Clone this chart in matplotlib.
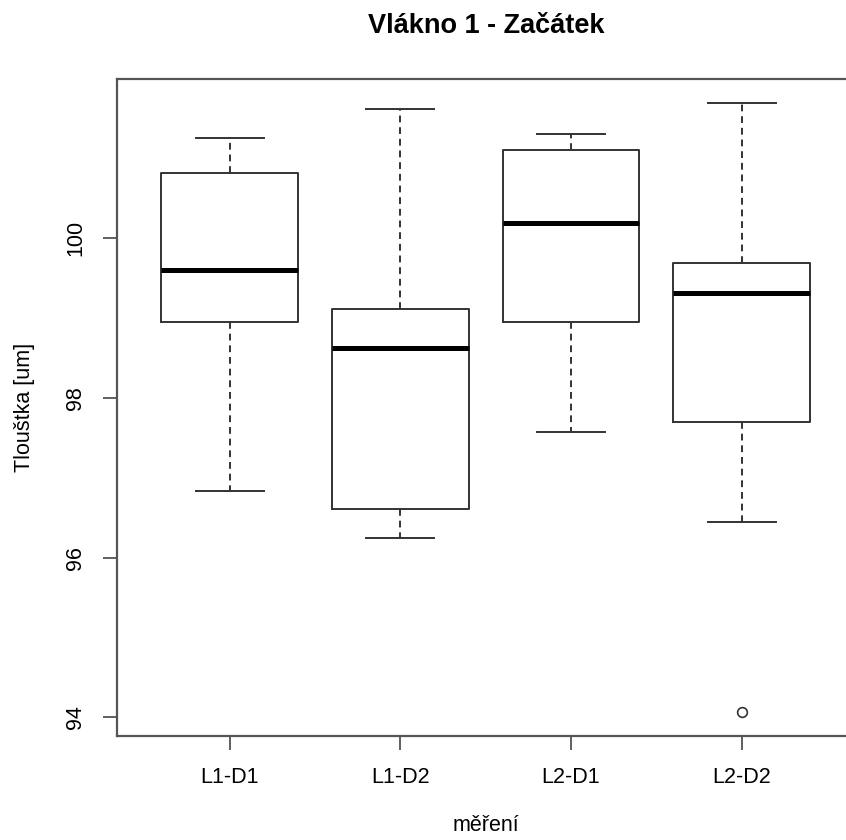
import matplotlib.pyplot as plt

plt.rcParams['font.family'] = ['Liberation Sans', 'DejaVu Sans']

# souhrnne statistiky pro kazde mereni
skupiny = ['L1-D1', 'L1-D2', 'L2-D1', 'L2-D2']
dolni_vous = [96.83, 96.25, 97.57, 96.45]
q1 = [98.95, 96.61, 98.95, 97.70]
median = [99.60, 98.62, 100.19, 99.32]
q3 = [100.82, 99.12, 101.10, 99.69]
horni_vous = [101.26, 101.62, 101.30, 101.69]
odlehle = [[], [], [], [94.07]]

stats = []
for i in range(len(skupiny)):
    stats.append(dict(label=skupiny[i], whislo=dolni_vous[i], q1=q1[i],
                      med=median[i], q3=q3[i], whishi=horni_vous[i],
                      fliers=odlehle[i]))

W, H = 846, 840
fig = plt.figure(figsize=(W / 100, H / 100), dpi=100)
ax = fig.add_axes([117 / W, 104 / H, 737.4 / W, 657 / H])

barva = '#333333'
ax.bxp(stats, positions=[1, 2, 3, 4], widths=0.8, capwidths=0.4,
       boxprops=dict(color=barva, lw=1.4),
       whiskerprops=dict(color=barva, lw=1.4, linestyle=(0, (3.5, 2.5))),
       capprops=dict(color=barva, lw=1.4),
       medianprops=dict(color='black', lw=3.6, solid_capstyle='butt'),
       flierprops=dict(marker='o', markerfacecolor='none',
                       markeredgecolor=barva, markersize=7, markeredgewidth=1.2))

# rozsah os jako v R (4 % navic)
vse = dolni_vous + horni_vous + [v for o in odlehle for v in o]
lo, hi = min(vse), max(vse)
r = hi - lo
ax.set_ylim(lo - 0.04 * r, hi + 0.04 * r)
ax.set_xlim(0.5 - 0.04 * 4, 4.5 + 0.04 * 4)

ax.set_yticks([94, 96, 98, 100])
ax.set_yticklabels(['94', '96', '98', '100'], rotation=90, va='center')
ax.set_xticks([1, 2, 3, 4])
ax.set_xticklabels(skupiny)
ax.tick_params(axis='both', length=10, width=1.2, color='#444444',
               labelsize=15.5, pad=12)

for s in ax.spines.values():
    s.set_color('#555555')
    s.set_linewidth(1.6)

ax.set_xlabel('měření', fontsize=15.5, labelpad=20)
ax.set_ylabel('Tlouštka [um]', fontsize=15.5, labelpad=22)

fig.text((117 + 854.7) / 2 / W, 1 - 26 / H, 'Vlákno 1 - Začátek',
         fontsize=19.5, fontweight='bold', ha='center', va='center')

fig.savefig('out.png', dpi=100)
